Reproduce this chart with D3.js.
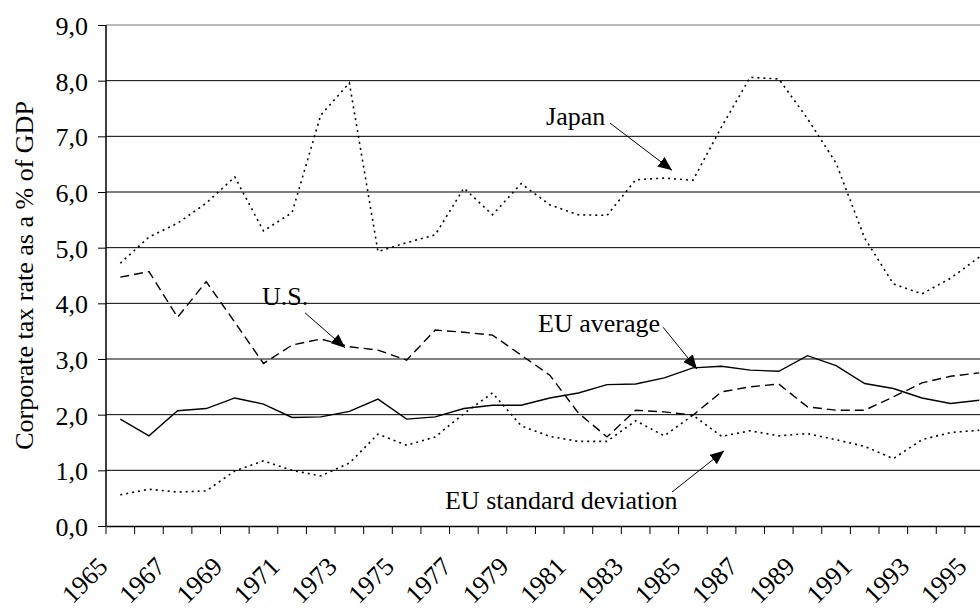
<!DOCTYPE html>
<html>
<head>
<meta charset="utf-8">
<script src="https://cdn.jsdelivr.net/npm/d3@7"></script>
<style>
  body { margin: 0; background: #fff; }
  #chart-area svg { display: block; }
</style>
</head>
<body>
<div id="chart-area"></div>
<script>
const years = [1965, 1966, 1967, 1968, 1969, 1970, 1971, 1972, 1973, 1974, 1975, 1976, 1977, 1978, 1979, 1980,
  1981, 1982, 1983, 1984, 1985, 1986, 1987, 1988, 1989, 1990, 1991, 1992, 1993, 1994, 1995];
const yearLabels = [1965, 1967, 1969, 1971, 1973, 1975, 1977, 1979, 1981, 1983, 1985, 1987, 1989, 1991, 1993, 1995];

const japan = [4.72, 5.19, 5.44, 5.80, 6.27, 5.30, 5.63, 7.38, 7.96, 4.93, 5.09, 5.23, 6.07, 5.59, 6.15, 5.77,
  5.59, 5.58, 6.22, 6.25, 6.21, 7.17, 8.06, 8.03, 7.32, 6.52, 5.17, 4.35, 4.17, 4.45, 4.83];
const us = [4.47, 4.57, 3.75, 4.39, 3.66, 2.92, 3.25, 3.36, 3.22, 3.16, 2.98, 3.52, 3.48, 3.43, 3.07, 2.71,
  2.03, 1.60, 2.08, 2.05, 1.99, 2.41, 2.50, 2.55, 2.14, 2.08, 2.08, 2.32, 2.57, 2.69, 2.75];
const euAverage = [1.92, 1.62, 2.07, 2.11, 2.30, 2.19, 1.95, 1.96, 2.06, 2.28, 1.92, 1.96, 2.11, 2.17, 2.17, 2.30,
  2.39, 2.54, 2.55, 2.66, 2.84, 2.87, 2.80, 2.78, 3.06, 2.88, 2.56, 2.47, 2.30, 2.20, 2.26];
const euStdDev = [0.56, 0.66, 0.61, 0.63, 0.99, 1.17, 1.00, 0.90, 1.13, 1.65, 1.45, 1.60, 2.02, 2.39, 1.80, 1.61,
  1.52, 1.52, 1.89, 1.62, 1.99, 1.61, 1.71, 1.62, 1.66, 1.55, 1.43, 1.21, 1.55, 1.68, 1.72];

const yTicks = [0, 1, 2, 3, 4, 5, 6, 7, 8, 9];

const series = [
  {name: "Japan", values: japan, dash: "2,4", width: 1.6},
  {name: "U.S.", values: us, dash: "9,5", width: 1.4},
  {name: "EU average", values: euAverage, dash: null, width: 1.4},
  {name: "EU standard deviation", values: euStdDev, dash: "2,4", width: 1.6}
];

// label text position, arrow start, arrow tip (year, value)
const notes = [
  {text: "Japan", at: [1979.87, 7.20], from: [1982.1, 7.24], to: [1984.27, 6.39]},
  {text: "U.S.", at: [1969.95, 3.97], from: [1971.45, 3.83], to: [1972.85, 3.20]},
  {text: "EU average", at: [1979.59, 3.48], from: [1983.96, 3.57], to: [1985.14, 2.82]},
  {text: "EU standard deviation", at: [1976.34, 0.31], from: [1984.27, 0.61], to: [1986.09, 1.35]}
];

const serif = "'Liberation Serif', 'Times New Roman', Times, serif";
const margin = {left: 106, top: 25, right: 0, bottom: 84};
const canvasWidth = 980;
const canvasHeight = 610;
const bandWidth = 28.63;
const chartWidth = bandWidth * years.length;
const chartHeight = canvasHeight - margin.top - margin.bottom;

const canvas = d3.select("#chart-area").append("svg")
  .attr("width", canvasWidth).attr("height", canvasHeight)
  .style("overflow", "hidden");

canvas.append("defs").append("marker")
  .attr("id", "arrow")
  .attr("markerUnits", "userSpaceOnUse")
  .attr("markerWidth", 16).attr("markerHeight", 12)
  .attr("refX", 14).attr("refY", 6)
  .attr("orient", "auto")
  .append("path").attr("d", "M0,0 L14,6 L0,12 Z").attr("fill", "#000");

const chartGroup = canvas.append("g").attr("transform", `translate(${margin.left}, ${margin.top})`);

const xScale = d3.scaleBand().domain(years).range([0, chartWidth]);
const yScale = d3.scaleLinear().domain([0, 9]).range([chartHeight, 0]);
// continuous year position, used for the annotations
const xYear = d3.scaleLinear().domain([1965, 1966]).range([bandWidth / 2, bandWidth * 1.5]);

chartGroup.append("g")
  .selectAll("line")
  .data(yTicks.slice(1))
  .enter().append("line")
  .attr("x1", 0).attr("x2", chartWidth)
  .attr("y1", d => yScale(d)).attr("y2", d => yScale(d))
  .attr("stroke", d => d === 9 ? "#777" : "#000")
  .attr("stroke-width", 1);

const yAxis = d3.axisLeft(yScale).tickValues(yTicks).tickSize(8).tickPadding(10)
  .tickFormat(d => d3.format(".1f")(d).replace(".", ","));
const yAxisGroup = chartGroup.append("g").call(yAxis).attr("font-family", serif);
yAxisGroup.select(".domain").attr("stroke", "#000").attr("stroke-width", 1.5).attr("d", `M0,0V${chartHeight}`);
yAxisGroup.selectAll("text").attr("font-size", "26px").attr("dy", "0.36em").attr("fill", "#000");

const xAxis = d3.axisBottom(xScale).tickValues(yearLabels).tickSize(0).tickPadding(0);
const xAxisGroup = chartGroup.append("g").attr("transform", `translate(0, ${chartHeight})`).call(xAxis)
  .attr("font-family", serif);
xAxisGroup.select(".domain").attr("stroke", "#000").attr("stroke-width", 1.5);
xAxisGroup.selectAll("text")
  .attr("font-size", "26px")
  .attr("fill", "#000")
  .attr("x", 0).attr("y", 0).attr("dy", 0)
  .attr("text-anchor", "end")
  .attr("transform", "translate(-11, 42) rotate(-45)");

xAxisGroup.append("g")
  .selectAll("line")
  .data(years.concat([null]))
  .enter().append("line")
  .attr("x1", (d, i) => i * xScale.bandwidth()).attr("x2", (d, i) => i * xScale.bandwidth())
  .attr("y1", 0).attr("y2", 8)
  .attr("stroke", "#000").attr("stroke-width", 1);

const line = d3.line()
  .x((d, i) => xScale(years[i]) + xScale.bandwidth() / 2)
  .y(d => yScale(d));

chartGroup.selectAll("path.series")
  .data(series)
  .enter().append("path")
  .attr("class", "series")
  .attr("d", d => line(d.values))
  .attr("fill", "none")
  .attr("stroke", "#000")
  .attr("stroke-width", d => d.width)
  .attr("stroke-dasharray", d => d.dash);

const noteGroup = chartGroup.append("g").attr("font-family", serif);
noteGroup.selectAll("text")
  .data(notes)
  .enter().append("text")
  .attr("x", d => xYear(d.at[0])).attr("y", d => yScale(d.at[1]))
  .attr("font-size", "26px")
  .attr("fill", "#000")
  .text(d => d.text);

noteGroup.selectAll("line")
  .data(notes)
  .enter().append("line")
  .attr("x1", d => xYear(d.from[0])).attr("y1", d => yScale(d.from[1]))
  .attr("x2", d => xYear(d.to[0])).attr("y2", d => yScale(d.to[1]))
  .attr("stroke", "#000").attr("stroke-width", 1)
  .attr("marker-end", "url(#arrow)");

chartGroup.append("text")
  .attr("font-family", serif)
  .attr("font-size", "26px")
  .attr("text-anchor", "middle")
  .attr("transform", `translate(${33 - margin.left}, ${chartHeight / 2}) rotate(-90)`)
  .text("Corporate tax rate as a % of GDP");
</script>
</body>
</html>
